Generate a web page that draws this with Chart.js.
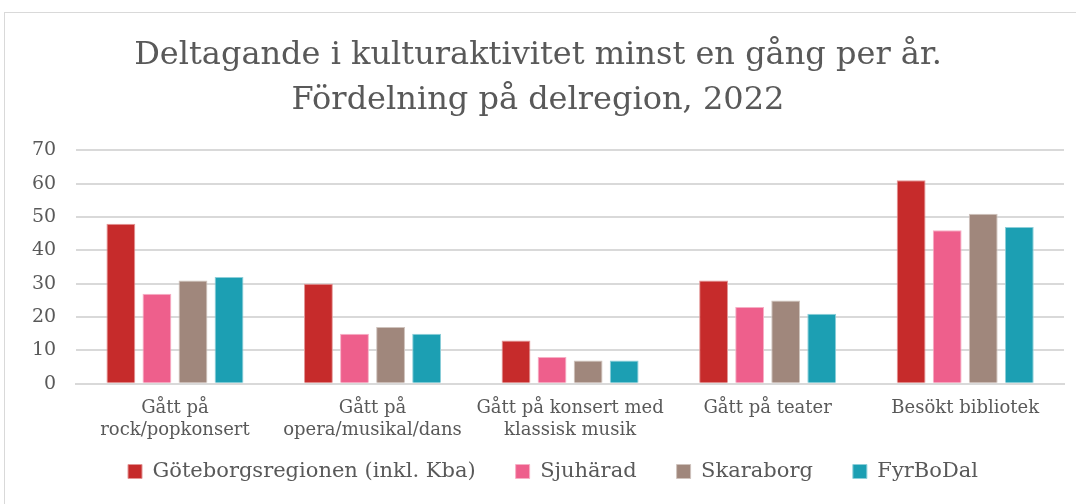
<!DOCTYPE html>
<html><head><meta charset="utf-8">
<script src="https://cdn.jsdelivr.net/npm/chart.js@4"></script>
<style>
html,body{margin:0;padding:0;background:#fff;}
#wrap{position:relative;width:1076px;height:504px;overflow:hidden;}
#frame{position:absolute;left:4px;top:12px;width:1100px;height:520px;border:1px solid #d9d9d9;box-sizing:border-box;}
canvas{position:absolute;left:0;top:0;}
</style></head>
<body><div id="wrap"><div id="frame"></div><canvas id="c" width="1076" height="504"></canvas></div>
<script>
const categories = [["Gått på","rock/popkonsert"],["Gått på","opera/musikal/dans"],["Gått på konsert med","klassisk musik"],"Gått på teater","Besökt bibliotek"];
const seriesNames = ["Göteborgsregionen (inkl. Kba)","Sjuhärad","Skaraborg","FyrBoDal"];
const goteborg = [48,30,13,31,61];
const sjuharad = [27,15,8,23,46];
const skaraborg = [31,17,7,25,51];
const fyrbodal = [32,15,7,21,47];
const colors = ["#C62B2B","#EE5F8C","#A0877C","#1C9FB3"];
const borders = ["#E39595","#F6AFC5","#CFC3BD","#8DCFD9"];
const values = [goteborg,sjuharad,skaraborg,fyrbodal];
const font = "Georgia, 'DejaVu Serif', 'Liberation Serif', serif";
const SHRINK = 26, SHIFT_X = 15;
const legendTweak = {
 id:'legendTweak',
 beforeUpdate(chart){
  const lg = chart.legend;
  if(lg && !lg._tweaked){
   lg._tweaked = true;
   const of = lg.fit.bind(lg), od = lg.draw.bind(lg);
   lg.fit = function(){ of(); this.height -= SHRINK; };
   lg.draw = function(){
    const ctx = this.ctx; ctx.save(); ctx.translate(SHIFT_X,0);
    this.top -= SHRINK; od(); this.top += SHRINK; ctx.restore();
   };
  }
 }
};
new Chart(document.getElementById('c'),{
 type:'bar',
 data:{labels:categories,datasets:values.map((v,i)=>({label:seriesNames[i],data:v,backgroundColor:colors[i],borderColor:borders[i],borderWidth:1,categoryPercentage:0.73,barPercentage:0.8}))},
 options:{
  responsive:false,animation:false,
  layout:{padding:{left:12,right:12,top:34,bottom:12}},
  plugins:{
   title:{display:true,text:["Deltagande i kulturaktivitet minst en gång per år.","Fördelning på delregion, 2022"],color:"#595959",font:{family:font,size:32,weight:'normal',lineHeight:1.38},padding:{top:0,bottom:28}},
   legend:{position:'bottom',labels:{color:"#595959",font:{family:font,size:21},boxWidth:14,boxHeight:14,padding:40},},
   tooltip:{enabled:false}
  },
  scales:{
   x:{grid:{display:false},border:{color:"#d9d9d9",width:2},ticks:{color:"#595959",font:{family:font,size:18},maxRotation:0,padding:6}},
   y:{min:0,max:70,ticks:{stepSize:10,color:"#595959",font:{family:font,size:19},padding:20},grid:{color:"#d9d9d9",lineWidth:2,drawTicks:false},border:{display:false}}
  }
 },
 plugins:[legendTweak]
});
</script></body></html>
